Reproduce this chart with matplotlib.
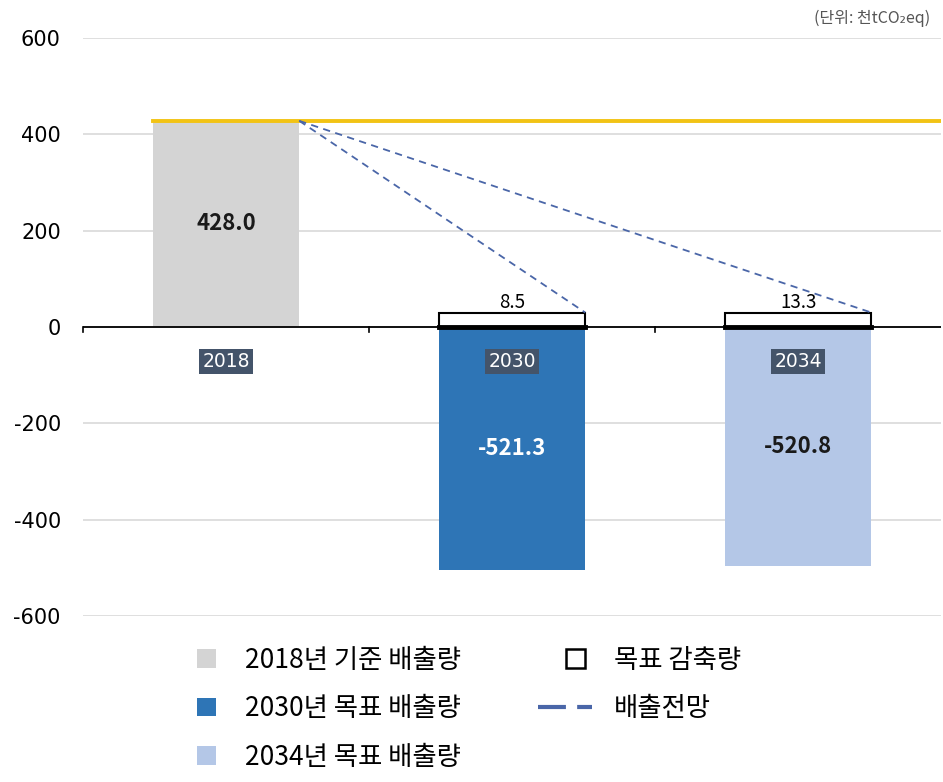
import matplotlib
matplotlib.use("Agg")
import matplotlib.pyplot as plt
from matplotlib.patches import Patch, Rectangle
from matplotlib.lines import Line2D
from matplotlib.legend_handler import HandlerBase

plt.rcParams['font.family'] = ['Noto Sans CJK KR', 'DejaVu Sans']

# ---- data ----
categories = ["2018", "2030", "2034"]
bar_values = [428.0, -505.0, -497.0]
bar_labels = ["428.0", "-521.3", "-520.8"]
reduction_heights = [30.0, 30.0]
reduction_labels = ["8.5", "13.3"]
baseline_value = 428.0
yticks = [600, 400, 200, 0, -200, -400, -600]
legend_labels = ["2018년 기준 배출량", "2030년 목표 배출량", "2034년 목표 배출량", "목표 감축량", "배출전망"]
unit_text = "(단위: 천tCO₂eq)"

bar_colors = ["#D4D4D4", "#2E75B6", "#B4C7E7"]
label_colors = ["#1a1a1a", "white", "#1a1a1a"]
dash_color = "#4A66A8"
yellow = "#F2C314"

fig = plt.figure(figsize=(9.43, 7.82), dpi=100)
ax = fig.add_axes([0.088, 1 - 616 / 782, 0.910, (616 - 38) / 782])

x = list(range(len(categories)))
w = 0.512
ax.bar(x, bar_values, width=w, color=bar_colors, zorder=2)

for xi, v, lab, c in zip(x, bar_values, bar_labels, label_colors):
    ax.text(xi, v / 2, lab, ha="center", va="center",
            fontsize=16, fontweight="bold", color=c, zorder=5)

# reduction boxes
for xi, h, lab in zip(x[1:], reduction_heights, reduction_labels):
    ax.add_patch(Rectangle((xi - w / 2, 0), w, h, facecolor="white",
                           edgecolor="black", linewidth=1.5, zorder=3))
    ax.plot([xi - w / 2, xi + w / 2], [0, 0], color="black", lw=3.5, zorder=4)
    ax.text(xi, h - 1, lab, ha="center", va="bottom", fontsize=13.5, color="black", zorder=5)

# baseline yellow line
ax.plot([x[0] - w / 2, 2.5], [baseline_value, baseline_value], color=yellow, lw=2.8, zorder=4)

# dashed projection lines
for xi, h in zip(x[1:], reduction_heights):
    ax.plot([x[0] + w / 2, xi + w / 2], [baseline_value, h], color=dash_color,
            lw=1.3, ls=(0, (4, 3)), zorder=4)

# category labels on dark background
for xi, cat in zip(x, categories):
    ax.text(xi, -72, cat, ha="center", va="center", fontsize=13.5, color="white",
            family=["DejaVu Sans"],
            bbox=dict(boxstyle="square,pad=0.15", facecolor="#44546A", edgecolor="none"), zorder=6)

ax.set_xlim(-0.5, 2.5)
ax.set_ylim(-600, 600)
ax.set_yticks(yticks)
ax.set_yticklabels([str(t) for t in yticks], fontsize=15, family=["DejaVu Sans"])
ax.yaxis.grid(True, color="#D9D9D9", lw=1.2, zorder=0)
ax.set_axisbelow(True)
ax.tick_params(axis="y", length=0, pad=16)
ax.set_xticks([])
for s in ax.spines.values():
    s.set_visible(False)
ax.axhline(0, color="black", lw=1.3, zorder=3)
for b in [-0.5, 0.5, 1.5]:
    ax.plot([b, b], [0, -10], color="black", lw=1.2, zorder=3, clip_on=False)

fig.text(0.987, 0.977, unit_text, ha="right", va="center", fontsize=11.5, color="#555555")


class WideDashHandler(HandlerBase):
    def create_artists(self, legend, orig_handle, xdescent, ydescent,
                       width, height, fontsize, trans):
        y = height / 2 - ydescent
        ln = Line2D([-xdescent - 20, -xdescent + width + 5], [y, y],
                    color=orig_handle.get_color(), lw=3, ls=(0, (6.7, 2.7)))
        ln.set_transform(trans)
        return [ln]


dash_handle = Line2D([0], [0], color=dash_color, lw=3)
handles = [
    Patch(facecolor=bar_colors[0], edgecolor="none"),
    Patch(facecolor=bar_colors[1], edgecolor="none"),
    Patch(facecolor=bar_colors[2], edgecolor="none"),
    Patch(facecolor="white", edgecolor="black", linewidth=1.8),
    dash_handle,
]
leg = fig.legend(handles, legend_labels, ncol=2, loc="upper left",
                 bbox_to_anchor=(0.195, 0.19), frameon=False, fontsize=19,
                 handlelength=0.7, handleheight=0.7, handletextpad=1.1,
                 labelspacing=0.82, columnspacing=4.0, borderpad=0,
                 handler_map={dash_handle: WideDashHandler()})

fig.savefig("out.png", dpi=100)
